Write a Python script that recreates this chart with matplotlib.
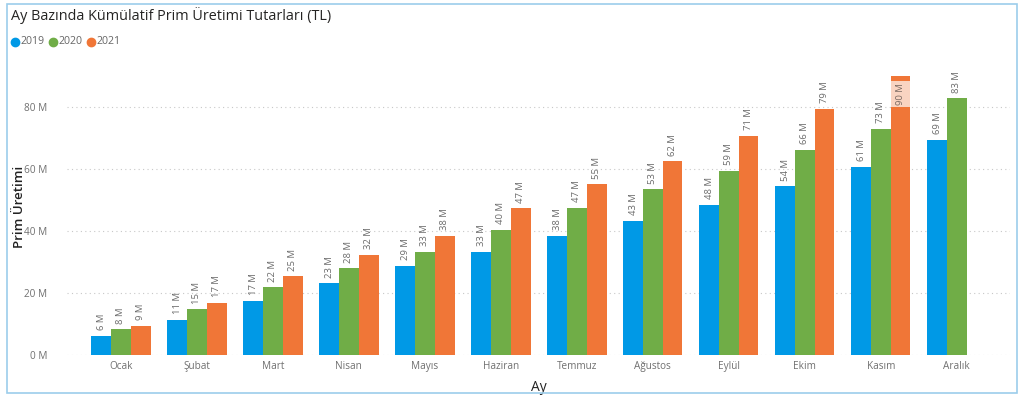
import matplotlib
matplotlib.use("Agg")
import matplotlib.pyplot as plt
from matplotlib.patches import Rectangle
from matplotlib.lines import Line2D

plt.rcParams['font.family'] = ['Open Sans', 'DejaVu Sans']

months = ["Ocak", "Şubat", "Mart", "Nisan", "Mayıs", "Haziran", "Temmuz",
          "Ağustos", "Eylül", "Ekim", "Kasım", "Aralık"]
years = ["2019", "2020", "2021"]
v2019 = [6.2, 11.4, 17.4, 23.1, 28.7, 33.3, 38.4, 43.2, 48.4, 54.4, 60.7, 69.4]
v2020 = [8.3, 14.8, 21.9, 28.0, 33.2, 40.4, 47.4, 53.4, 59.4, 66.1, 73.0, 82.8]
v2021 = [9.4, 16.9, 25.4, 32.4, 38.4, 47.3, 55.1, 62.4, 70.7, 79.4, 90.0]
yticks = [0, 20, 40, 60, 80]
ytick_labels = ["0 M", "20 M", "40 M", "60 M", "80 M"]
colors = ["#0099E6", "#70AD47", "#F07637"]

W, H = 1024, 397
fig = plt.figure(figsize=(W / 100, H / 100), dpi=100)
fig.patch.set_facecolor("white")

# outer border
fig.patches.append(Rectangle((7 / W, 1 - 393 / H), (1017 - 7) / W, (393 - 4) / H,
                             transform=fig.transFigure, fill=False,
                             edgecolor="#9CCDEB", linewidth=1.2))

ax = fig.add_axes([67 / W, 1 - 355 / H, (1010 - 67) / W, (355 - 65) / H])
ax.set_xlim(-0.71, 11.70)
ax.set_ylim(0, 93.5)

bw = 0.26
series = [v2019, v2020, v2021]
label_color = "#6b6b6b"
for si, vals in enumerate(series):
    off = (si - 1) * bw
    xs = [i + off for i in range(len(vals))]
    ax.bar(xs, vals, width=bw, color=colors[si], linewidth=0, zorder=3)
    for i, v in enumerate(vals):
        txt = f"{round(v):d} M"
        if si == 2 and i == 10:
            ax.add_patch(Rectangle((i + off - bw / 2, 80.0), bw, 8.4,
                                   facecolor="#F9D4C1", edgecolor="none", zorder=4))
            ax.text(i + off, 84.2, txt, rotation=90, ha="center", va="center",
                    fontsize=6.8, color="#7a6a62", zorder=5)
        else:
            ax.annotate(txt, (i + off, v), xytext=(0, 4), textcoords="offset points",
                        rotation=90, ha="center", va="bottom", fontsize=6.8,
                        color=label_color, zorder=5)

ax.set_yticks(yticks)
ax.set_yticklabels(ytick_labels)
ax.set_xticks(range(len(months)))
ax.set_xticklabels(months)
ax.tick_params(axis="both", length=0, labelsize=7.2, labelcolor="#707070")
ax.tick_params(axis="y", pad=14)
ax.tick_params(axis="x", pad=4)
ax.grid(axis="y", linestyle=(0, (1, 3)), color="#c8c8c8", linewidth=0.8, zorder=0)
for s in ax.spines.values():
    s.set_visible(False)

ax.set_xlabel("Ay", fontsize=10, color="#222222", labelpad=6)
fig.text(20 / W, 1 - 207 / H, "Prim Üretimi", rotation=90, ha="center", va="center",
         fontsize=9.5, color="#222222", fontweight="semibold")

fig.text(11 / W, 1 - 16 / H, "Ay Bazında Kümülatif Prim Üretimi Tutarları (TL)",
         ha="left", va="center", fontsize=10.4, color="#252423")

# legend
lx = [15, 53, 91]
for k, yr in enumerate(years):
    fig.add_artist(Line2D([lx[k] / W], [1 - 42 / H], marker="o", markersize=6,
                          color=colors[k], linestyle="none",
                          transform=fig.transFigure))
    fig.text((lx[k] + 5.5) / W, 1 - 42 / H, yr, ha="left", va="center",
             fontsize=7.6, color="#666666")

fig.savefig("out.png", dpi=100, facecolor="white")
